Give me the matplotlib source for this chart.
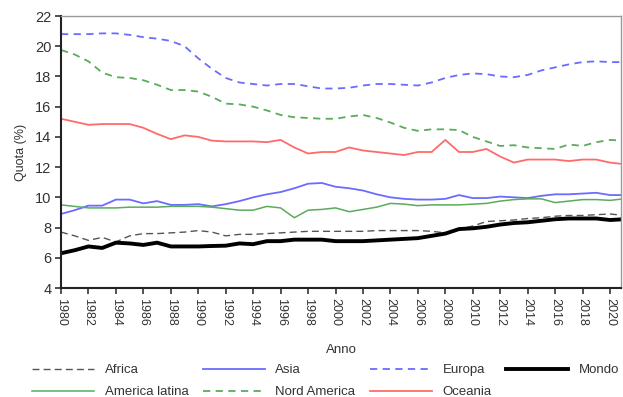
import matplotlib
matplotlib.use("Agg")
import matplotlib.pyplot as plt
import numpy as np

plt.rcParams['font.family'] = ['Liberation Sans', 'DejaVu Sans']

years = list(range(1980, 2022))

africa = [7.7, 7.45, 7.15, 7.35, 7.05, 7.45, 7.6, 7.6, 7.65, 7.7, 7.8, 7.7, 7.45, 7.55, 7.55,
          7.6, 7.65, 7.7, 7.75, 7.75, 7.75, 7.75, 7.75, 7.8, 7.8, 7.8, 7.8, 7.75, 7.65, 7.9,
          8.1, 8.4, 8.45, 8.5, 8.6, 8.65, 8.75, 8.8, 8.8, 8.85, 8.9, 8.8]
asia = [8.9, 9.15, 9.45, 9.45, 9.85, 9.85, 9.6, 9.75, 9.5, 9.5, 9.55, 9.4, 9.55, 9.75, 10.0,
        10.2, 10.35, 10.6, 10.9, 10.95, 10.7, 10.6, 10.45, 10.2, 10.0, 9.9, 9.85, 9.85, 9.9, 10.15,
        9.95, 9.95, 10.05, 10.0, 9.95, 10.1, 10.2, 10.2, 10.25, 10.3, 10.15, 10.15]
europa = [20.8, 20.8, 20.8, 20.85, 20.85, 20.75, 20.6, 20.5, 20.35, 20.0, 19.2, 18.5, 17.9, 17.6, 17.5,
          17.4, 17.5, 17.5, 17.35, 17.2, 17.2, 17.25, 17.4, 17.5, 17.5, 17.45, 17.4, 17.6, 17.9, 18.1,
          18.2, 18.15, 18.0, 17.95, 18.1, 18.4, 18.6, 18.8, 18.95, 19.0, 18.95, 18.95]
mondo = [6.3, 6.5, 6.75, 6.65, 7.0, 6.95, 6.85, 7.0, 6.75, 6.75, 6.75, 6.78, 6.8, 6.95, 6.9,
         7.1, 7.1, 7.2, 7.2, 7.2, 7.1, 7.1, 7.1, 7.15, 7.2, 7.25, 7.3, 7.45, 7.6, 7.9,
         7.95, 8.05, 8.2, 8.3, 8.35, 8.45, 8.55, 8.6, 8.6, 8.6, 8.5, 8.55]
america_latina = [9.5, 9.4, 9.3, 9.3, 9.3, 9.35, 9.35, 9.35, 9.4, 9.4, 9.4, 9.35, 9.25, 9.15, 9.15,
                  9.4, 9.3, 8.65, 9.15, 9.2, 9.3, 9.05, 9.2, 9.35, 9.6, 9.55, 9.45, 9.5, 9.5, 9.5,
                  9.55, 9.6, 9.75, 9.85, 9.9, 9.9, 9.65, 9.75, 9.85, 9.85, 9.8, 9.9]
nord_america = [19.75, 19.45, 19.0, 18.25, 17.95, 17.9, 17.75, 17.45, 17.1, 17.1, 17.0, 16.65, 16.2, 16.15, 16.0,
                15.75, 15.45, 15.3, 15.25, 15.2, 15.2, 15.35, 15.45, 15.25, 14.95, 14.6, 14.4, 14.5, 14.5, 14.45,
                14.0, 13.7, 13.4, 13.45, 13.3, 13.25, 13.2, 13.5, 13.4, 13.65, 13.8, 13.75]
oceania = [15.2, 15.0, 14.8, 14.85, 14.85, 14.85, 14.6, 14.2, 13.85, 14.1, 14.0, 13.75, 13.7, 13.7, 13.7,
           13.65, 13.8, 13.3, 12.9, 13.0, 13.0, 13.3, 13.1, 13.0, 12.9, 12.8, 13.0, 13.0, 13.8, 13.0,
           13.0, 13.2, 12.7, 12.3, 12.5, 12.5, 12.5, 12.4, 12.5, 12.5, 12.3, 12.2]

x_ticks = list(range(1980, 2021, 2))
y_ticks = list(range(4, 23, 2))

fig = plt.figure(figsize=(6.23, 3.97), dpi=100)
ax = fig.add_axes([61/623, 1-288/397, 560/623, 272/397])

blue = '#6b6bff'
green = '#5aac5a'
red = '#ff6b6b'
grey = '#555555'

h_af, = ax.plot(years, africa, color=grey, lw=1.0, ls=(0, (5, 3)), label='Africa')
h_as, = ax.plot(years, asia, color=blue, lw=1.3, label='Asia')
h_eu, = ax.plot(years, europa, color=blue, lw=1.3, ls=(0, (4, 3)), label='Europa')
h_mo, = ax.plot(years, mondo, color='black', lw=2.8, label='Mondo')
h_al, = ax.plot(years, america_latina, color=green, lw=1.1, label='America latina')
h_na, = ax.plot(years, nord_america, color=green, lw=1.3, ls=(0, (4, 3)), label='Nord America')
h_oc, = ax.plot(years, oceania, color=red, lw=1.3, label='Oceania')

ax.set_xlim(1980, 2020.8)
ax.set_ylim(4, 22)
ax.set_xticks(x_ticks)
ax.set_xticklabels([str(v) for v in x_ticks], rotation=270, fontsize=9, color='#333333')
ax.set_yticks(y_ticks)
ax.set_yticklabels([str(v) for v in y_ticks], fontsize=10.5, color='#333333')
ax.tick_params(axis='both', direction='out', length=4, width=1.2, color='#333333', pad=3)
for s in ['left', 'bottom']:
    ax.spines[s].set_color('#222222')
    ax.spines[s].set_linewidth(1.5)
for s in ['top', 'right']:
    ax.spines[s].set_color('#999999')
    ax.spines[s].set_linewidth(1.0)

ax.set_ylabel('Quota (%)', fontsize=9, color='#333333', labelpad=6)
ax.set_xlabel('Anno', fontsize=9.5, color='#333333', labelpad=13)

handles = [h_af, h_al, h_as, h_na, h_eu, h_oc, h_mo]
fig.legend(handles=handles, labels=[h.get_label() for h in handles], ncol=4,
           loc='upper left', bbox_to_anchor=(32/623, 1-364/397), frameon=False,
           fontsize=9.5, handlelength=4.7, handletextpad=0.8, columnspacing=1.1,
           borderpad=0, borderaxespad=0, labelspacing=0.75, labelcolor='#333333')

fig.savefig('out.png', dpi=100)
